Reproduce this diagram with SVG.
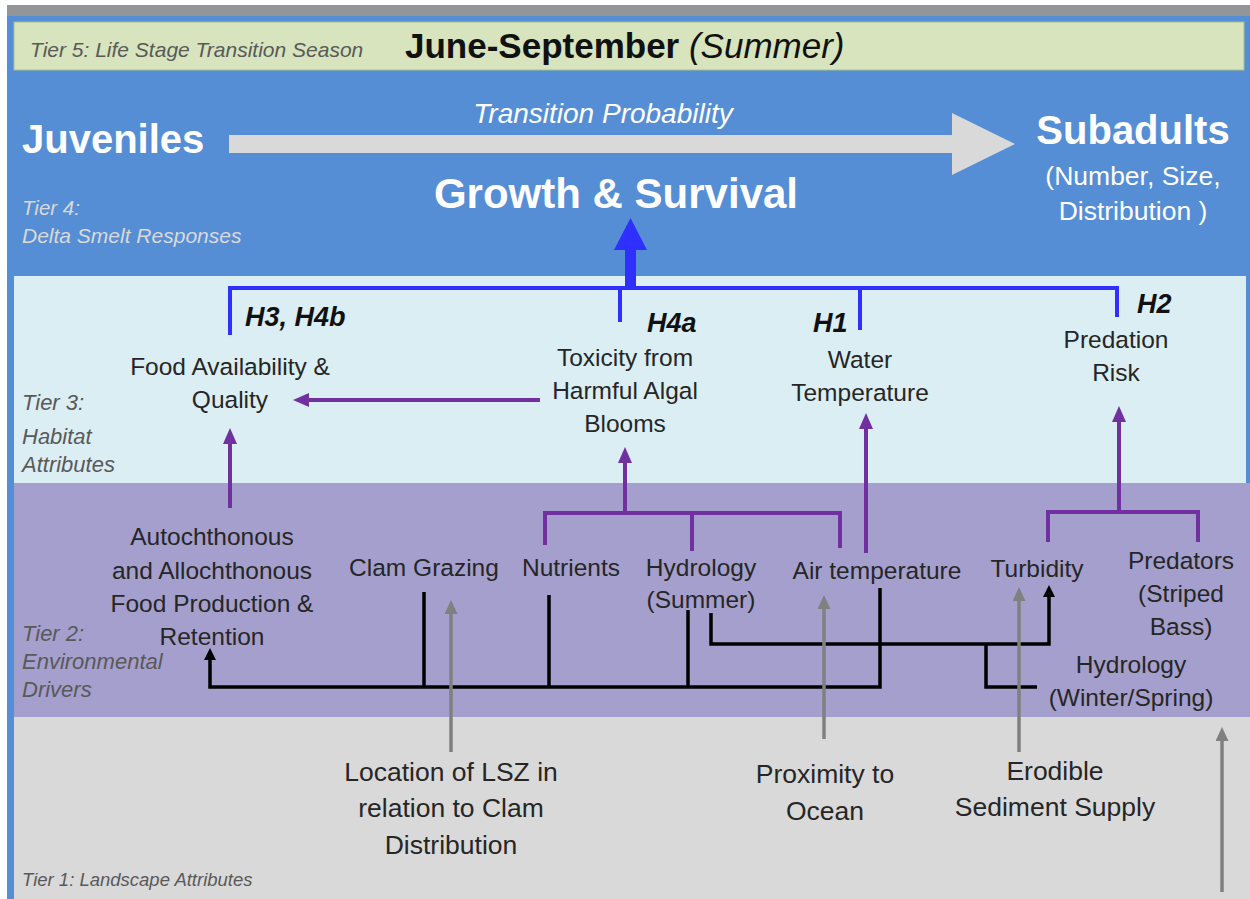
<svg xmlns="http://www.w3.org/2000/svg" width="1250" height="899" viewBox="0 0 1250 899">
<style>
text{font-family:"Liberation Sans",Arial,sans-serif}
.n{font-size:24.5px;fill:#262626;text-anchor:middle}
.n1{font-size:26.5px;fill:#262626;text-anchor:middle}
.tier{font-style:italic;fill:#595959;font-size:22px}
.h{font-weight:bold;font-style:italic;font-size:27px;fill:#111}
.w{fill:#fff}
.pu{stroke:#7030a0;stroke-width:4;fill:none}
.bk{stroke:#000;stroke-width:3.5;fill:none}
.gy{stroke:#808080;stroke-width:3.5;fill:none}
.bl{stroke:#2f2fff;stroke-width:4;fill:none}
</style>
<defs>
<marker id="mp" markerUnits="userSpaceOnUse" markerWidth="16" markerHeight="14" refX="3" refY="7" orient="auto"><path d="M0,0 L16,7 L0,14 z" fill="#7030a0"/></marker>
<marker id="mb" markerUnits="userSpaceOnUse" markerWidth="12" markerHeight="12" refX="2" refY="6" orient="auto"><path d="M0,0 L12,6 L0,12 z" fill="#000"/></marker>
<marker id="mg" markerUnits="userSpaceOnUse" markerWidth="14" markerHeight="13" refX="2" refY="6.5" orient="auto"><path d="M0,0 L14,6.5 L0,13 z" fill="#808080"/></marker>
</defs>
<g id="background">
<rect x="0" y="0" width="1250" height="899" fill="#fff"/>
<rect x="7" y="5" width="1243" height="11" fill="#939598"/>
<rect x="7" y="16" width="1243" height="883" fill="#558ed5"/>
<rect x="14" y="22" width="1230" height="48" fill="#d7e4bd" stroke="#a9c08a" stroke-width="1"/>
<rect x="14" y="276" width="1232" height="207" fill="#dbeef4"/>
<rect x="14" y="483" width="1236" height="234" fill="#a59fcd"/>
<rect x="14" y="717" width="1236" height="182" fill="#d9d9d9"/>
</g>
<g id="tier-labels">
<text x="30" y="57" class="tier" style="font-size:21px">Tier 5: Life Stage Transition Season</text>
<text x="22" y="215" class="tier" style="fill:#d9d9d9;font-size:20.5px">Tier 4:</text>
<text x="22" y="243" class="tier" style="fill:#d9d9d9;font-size:21px">Delta Smelt Responses</text>
<text x="22" y="410" class="tier">Tier 3:</text>
<text x="22" y="444" class="tier">Habitat</text>
<text x="22" y="472" class="tier">Attributes</text>
<text x="22" y="641" class="tier">Tier 2:</text>
<text x="22" y="669" class="tier">Environmental</text>
<text x="22" y="697" class="tier">Drivers</text>
<text x="22" y="886" class="tier" style="font-size:18.5px">Tier 1: Landscape Attributes</text>
</g>
<g id="season">
<text x="405" y="58" style="font-size:35px;font-weight:bold;fill:#111">June-September <tspan style="font-weight:normal;font-style:italic">(Summer)</tspan></text>
</g>
<g id="transition-arrow">
<polygon points="229,135 952,135 952,113 1015,144 952,175 952,153 229,153" fill="#d9d9d9"/>
<text x="603" y="123" class="w" style="font-size:28px;font-style:italic;text-anchor:middle">Transition Probability</text>
</g>
<g id="juveniles"><text x="22" y="153" class="w" style="font-size:40px;font-weight:bold">Juveniles</text></g>
<g id="subadults">
<text x="1133" y="144" class="w" style="font-size:40px;font-weight:bold;text-anchor:middle">Subadults</text>
<text x="1133" y="185" class="w" style="font-size:26.5px;text-anchor:middle">(Number, Size,</text>
<text x="1133" y="220" class="w" style="font-size:26.5px;text-anchor:middle">Distribution )</text>
</g>
<g id="growth-survival"><text x="616" y="208" class="w" style="font-size:42px;font-weight:bold;text-anchor:middle">Growth &amp; Survival</text></g>
<g id="connectors">
<g id="blue">
<path class="bl" d="M230,335 V288 H1117 V317 M620,288 V322 M860,288 V330"/>
<rect x="625" y="248" width="11" height="40" fill="#2f2fff"/>
<polygon points="614,250 647,250 630.5,218" fill="#2f2fff"/>
</g>
<g id="purple">
<path class="pu" d="M540,400 H306" marker-end="url(#mp)"/>
<path class="pu" d="M230,508 V441" marker-end="url(#mp)"/>
<path class="pu" d="M625,513 V460" marker-end="url(#mp)"/>
<path class="pu" d="M545,545 V513 H840 V548 M692,513 V551"/>
<path class="pu" d="M866,553 V426" marker-end="url(#mp)"/>
<path class="pu" d="M1119,512 V419" marker-end="url(#mp)"/>
<path class="pu" d="M1048,542 V512 H1198 V542"/>
</g>
<g id="black">
<path class="bk" d="M880,588 V687 H210 V658" marker-end="url(#mb)"/>
<path class="bk" d="M424,592 V687 M549,595 V687 M688,610 V687"/>
<path class="bk" d="M711,613 V644 H1049 V595" marker-end="url(#mb)"/>
<path class="bk" d="M986,644 V687 H1037"/>
</g>
<g id="gray">
<path class="gy" d="M451,752 V612" marker-end="url(#mg)"/>
<path class="gy" d="M824,739 V607" marker-end="url(#mg)"/>
<path class="gy" d="M1019,752 V599" marker-end="url(#mg)"/>
<path class="gy" d="M1222,892 V739" marker-end="url(#mg)"/>
</g>
</g>
<g id="hyp-labels">
<text x="245" y="326" class="h">H3, H4b</text>
<text x="647" y="332" class="h">H4a</text>
<text x="813" y="332" class="h">H1</text>
<text x="1137" y="313" class="h">H2</text>
</g>
<g id="food-availability"><text class="n" x="230" y="375">Food Availability &amp;</text><text class="n" x="230" y="408">Quality</text></g>
<g id="toxicity"><text class="n" x="625" y="366">Toxicity from</text><text class="n" x="625" y="399">Harmful Algal</text><text class="n" x="625" y="432">Blooms</text></g>
<g id="water-temperature"><text class="n" x="860" y="368">Water</text><text class="n" x="860" y="401">Temperature</text></g>
<g id="predation-risk"><text class="n" x="1116" y="348">Predation</text><text class="n" x="1116" y="381">Risk</text></g>
<g id="food-production"><text class="n" x="212" y="545">Autochthonous</text><text class="n" x="212" y="579">and Allochthonous</text><text class="n" x="212" y="612">Food Production &amp;</text><text class="n" x="212" y="645">Retention</text></g>
<g id="clam-grazing"><text class="n" x="424" y="576">Clam Grazing</text></g>
<g id="nutrients"><text class="n" x="571" y="576">Nutrients</text></g>
<g id="hydrology-summer"><text class="n" x="701" y="576">Hydrology</text><text class="n" x="701" y="608">(Summer)</text></g>
<g id="air-temperature"><text class="n" x="877" y="579">Air temperature</text></g>
<g id="turbidity"><text class="n" x="1037" y="577">Turbidity</text></g>
<g id="predators"><text class="n" x="1181" y="569">Predators</text><text class="n" x="1181" y="602">(Striped</text><text class="n" x="1181" y="635">Bass)</text></g>
<g id="hydrology-winter"><text class="n" x="1131" y="673">Hydrology</text><text class="n" x="1131" y="706">(Winter/Spring)</text></g>
<g id="lsz-location"><text class="n1" x="451" y="781">Location of LSZ in</text><text class="n1" x="451" y="817">relation to Clam</text><text class="n1" x="451" y="854">Distribution</text></g>
<g id="proximity-ocean"><text class="n1" x="825" y="783">Proximity to</text><text class="n1" x="825" y="820">Ocean</text></g>
<g id="sediment-supply"><text class="n1" x="1055" y="780">Erodible</text><text class="n1" x="1055" y="816">Sediment Supply</text></g>
</svg>
